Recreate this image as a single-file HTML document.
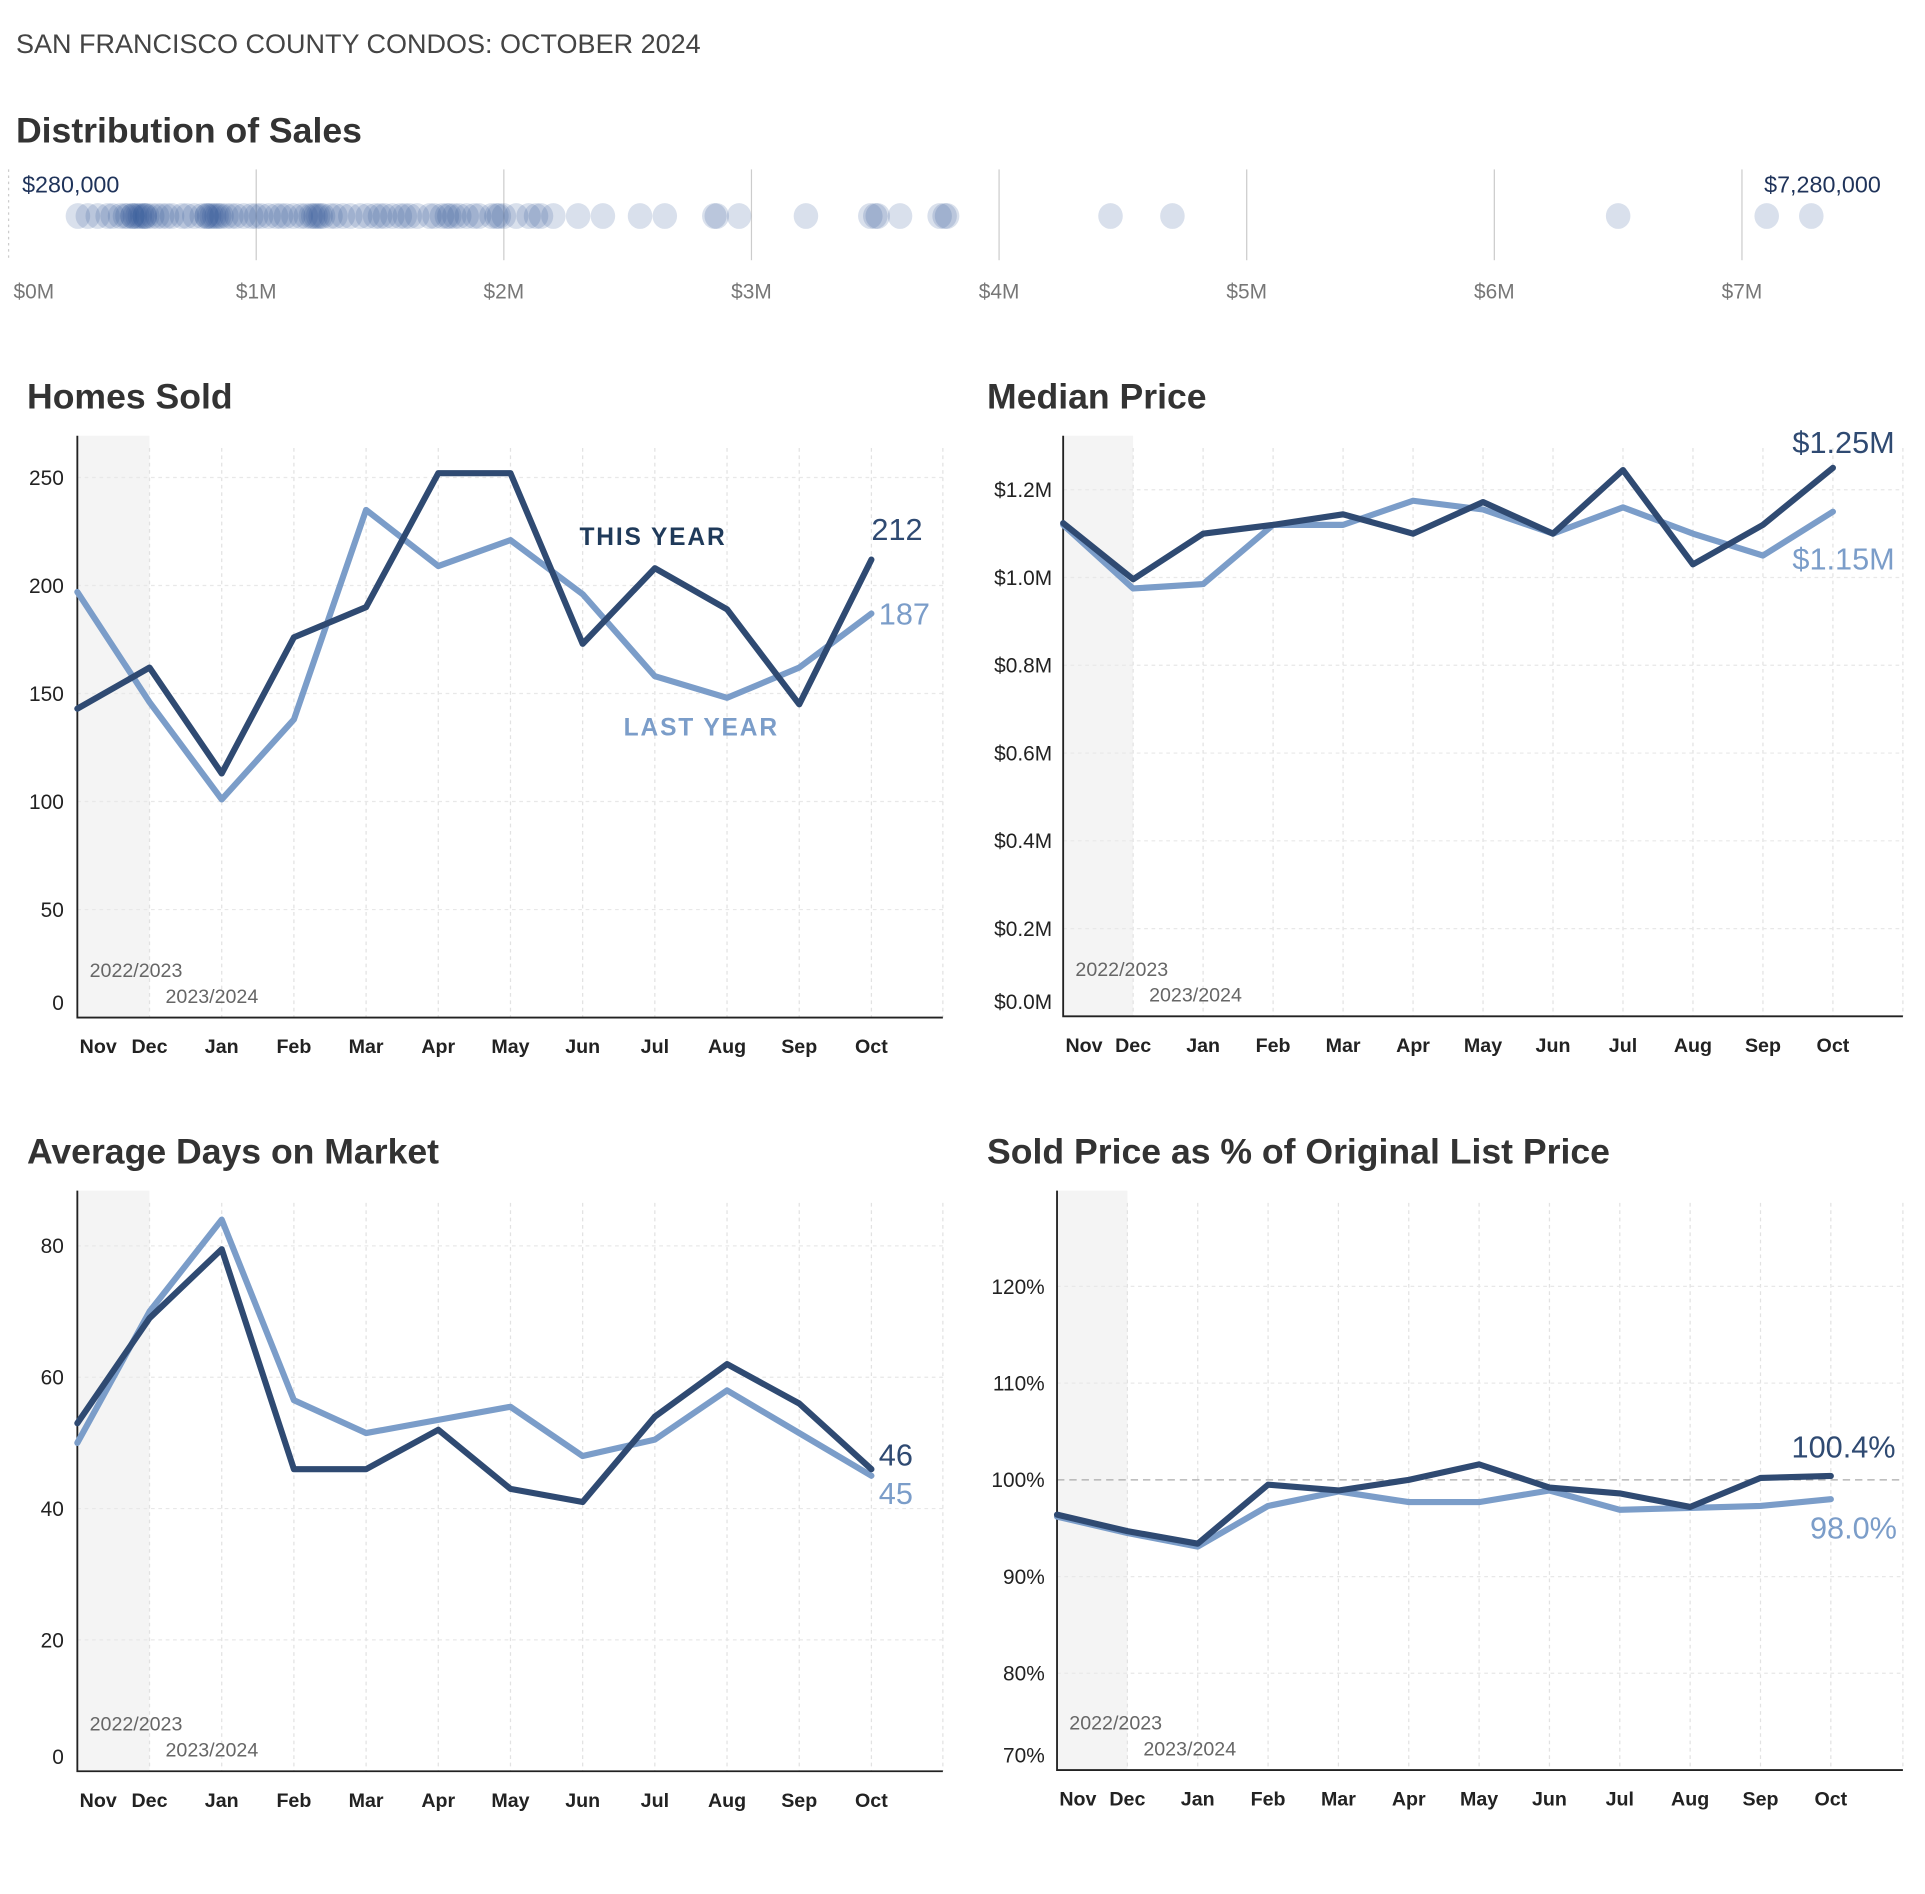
<!DOCTYPE html>
<html><head><meta charset="utf-8">
<style>
html,body{margin:0;padding:0;background:#fff;}
svg{display:block;font-family:"Liberation Sans",sans-serif;}
</style></head>
<body>
<svg id="root" width="1925" height="1894" viewBox="0 0 1568 1543" preserveAspectRatio="none" xmlns="http://www.w3.org/2000/svg"></svg>
<script>
const months = ["Nov","Dec","Jan","Feb","Mar","Apr","May","Jun","Jul","Aug","Sep","Oct"];
const soldThis = [143,162,113,176,190,252,252,173,208,189,145,212];
const soldLast = [197,146,101,138,235,209,221,196,158,148,162,187];
const soldTicks = [0,50,100,150,200,250];
const priceThis = [1.124,0.996,1.10,1.12,1.144,1.10,1.172,1.10,1.245,1.03,1.12,1.25];
const priceLast = [1.12,0.975,0.985,1.12,1.12,1.175,1.155,1.10,1.16,1.10,1.05,1.15];
const priceTicks = [0,0.2,0.4,0.6,0.8,1.0,1.2];
const domThis = [53,69,79.5,46,46,52,43,41,54,62,56,46];
const domLast = [50,70,84,56.5,51.5,53.5,55.5,48,50.5,58,51.5,45];
const domTicks = [0,20,40,60,80];
const pctThis = [96.4,94.7,93.4,99.5,98.9,100,101.6,99.2,98.6,97.2,100.2,100.4];
const pctLast = [96.2,94.5,93.1,97.3,98.8,97.7,97.7,98.9,96.9,97.1,97.3,98.0];
const pctTicks = [70,80,90,100,110,120];
const distTicks = [0,1,2,3,4,5,6,7];
const salesM = [0.28,0.32,0.36,0.4,0.42,0.45,0.47,0.48,0.5,0.5,0.51,0.52,0.53,0.54,0.55,0.55,0.56,0.58,0.6,0.62,0.64,0.66,0.7,0.72,0.75,0.78,0.8,0.8,0.81,0.82,0.83,0.84,0.85,0.86,0.88,0.9,0.92,0.95,0.98,1.0,1.02,1.05,1.08,1.1,1.12,1.15,1.18,1.2,1.22,1.23,1.24,1.25,1.26,1.27,1.3,1.32,1.35,1.38,1.42,1.45,1.48,1.5,1.52,1.55,1.58,1.6,1.62,1.65,1.7,1.72,1.75,1.77,1.78,1.8,1.82,1.85,1.88,1.9,1.95,1.97,1.98,2.0,2.05,2.1,2.13,2.15,2.2,2.3,2.4,2.55,2.65,2.85,2.86,2.95,3.22,3.48,3.5,3.51,3.6,3.76,3.78,3.79,4.45,4.7,6.5,7.1,7.28];
const DARK="#2f4a72", LIGHT="#7b9dc9";
const NS="http://www.w3.org/2000/svg";
const root=document.getElementById('root');
function mk(tag,attrs,parent,text){const e=document.createElementNS(NS,tag);for(const k in attrs)e.setAttribute(k,attrs[k]);if(text!==undefined)e.textContent=text;(parent||root).appendChild(e);return e;}

let t=mk('text',{x:13,y:43,'font-size':22,fill:'#444'},root,'SAN FRANCISCO COUNTY CONDOS: OCTOBER 2024');


const dg=mk('g',{});


t=mk('text',{x:13,y:116,'font-size':29,fill:'#333','font-weight':'bold'},dg,'Distribution of Sales');

const dx=v=>7+v*201.7;
distTicks.forEach(v=>{
  const l=mk('line',{x1:dx(v),x2:dx(v),y1:138,y2:212,stroke:'#ccc','stroke-width':1,'stroke-dasharray':v===0?'2,3':''},dg);
  
  const tx=mk('text',{x:dx(v)+(v===0?4:0),y:243,'font-size':17,fill:'#777','text-anchor':v===0?'start':'middle'},dg,'$'+v+'M');
  
});
salesM.forEach(v=>{
  const c=mk('ellipse',{cx:dx(v),cy:176,rx:10,ry:10.5,fill:'#2a5296','fill-opacity':0.18},dg);
  
});
t=mk('text',{x:18,y:157,'font-size':19,fill:'#1f335a'},dg,'$280,000');

t=mk('text',{x:1532,y:157,'font-size':19,fill:'#1f335a','text-anchor':'end'},dg,'$7,280,000');


function chart(o){
  const g=mk('g',{});
  
  
  const tt=mk('text',{x:o.titleX,y:o.top-22,'font-size':29,fill:'#333','font-weight':'bold'},g,o.title);
  
  const L=o.left,B=o.bottom,T=o.top,R=o.right;
  const x=i=>L+i*o.step;
  const y=v=>B-(v-o.ymin)*o.ppu;
  const sh=mk('rect',{x:L,y:T,width:o.step,height:B-T,fill:'#f4f4f4'},g);
  
  months.forEach((m,i)=>{
    if(i>0){const l=mk('line',{x1:x(i),x2:x(i),y1:T+10,y2:B,stroke:'#e2e2e2','stroke-dasharray':'3,3'},g);
    }
    const lt=mk('text',{x:i===0?x(i)+17:x(i),y:B+29,'font-size':16,'font-weight':'bold',fill:'#222','text-anchor':'middle'},g,m);
    
  });
  const el=mk('line',{x1:R,x2:R,y1:T+10,y2:B,stroke:'#e2e2e2','stroke-dasharray':'3,3'},g);
  
  o.ticks.forEach((v,i)=>{
    if(i>0){const l=mk('line',{x1:L,x2:R,y1:y(v),y2:y(v),stroke:o.ref===v?'#aaa':'#e8e8e8','stroke-dasharray':o.ref===v?'6,4':'3,3'},g);
    }
    const lt=mk('text',{x:o.labelX,y:(i===0?y(v)-12:y(v))+6,'font-size':17,fill:'#222','text-anchor':'end'},g,o.fmt(v));
    
  });
  const ax=mk('polyline',{points:`${L},${T} ${L},${B} ${R},${B}`,fill:'none',stroke:'#222','stroke-width':1.5},g);
  
  let y1=mk('text',{x:L+10,y:B-33,'font-size':16,fill:'#666'},g,'2022/2023');
  
  y1=mk('text',{x:L+o.step+13,y:B-12,'font-size':16,fill:'#666'},g,'2023/2024');
  
  const pl=mk('polyline',{points:o.last.map((v,i)=>x(i)+','+y(v)).join(' '),fill:'none',stroke:LIGHT,'stroke-width':5,'stroke-linejoin':'round','stroke-linecap':'round'},g);
  
  const pd=mk('polyline',{points:o.thisY.map((v,i)=>x(i)+','+y(v)).join(' '),fill:'none',stroke:DARK,'stroke-width':5,'stroke-linejoin':'round','stroke-linecap':'round'},g);
  
  const n=months.length-1;
  const a=mk('text',{x:x(n)+o.endDx[0],y:y(o.thisY[n])+o.endDy[0],'font-size':25,fill:DARK},g,o.endFmt(o.thisY[n]));
  
  const b=mk('text',{x:x(n)+o.endDx[1],y:y(o.last[n])+o.endDy[1],'font-size':25,fill:LIGHT},g,o.endFmt(o.last[n]));
  
  return g;
}

const g1=chart({name:'homes-sold-chart',title:'Homes Sold',titleX:22,top:355,left:63,right:768,bottom:829,step:58.8,ymin:0,ppu:1.76,ticks:soldTicks,labelX:52,fmt:v=>String(v),thisY:soldThis,last:soldLast,endFmt:v=>String(v),endDx:[0,6],endDy:[-16,9]});
t=mk('text',{x:472,y:444,'font-size':20,fill:'#1f3a5a','letter-spacing':'1.5','font-weight':'bold'},g1,'THIS YEAR');

t=mk('text',{x:508,y:599,'font-size':20,fill:LIGHT,'letter-spacing':'1.5','font-weight':'bold'},g1,'LAST YEAR');


chart({name:'median-price-chart',title:'Median Price',titleX:804,top:355,left:866,right:1550,bottom:828,step:57,ymin:0,ppu:357.5,ticks:priceTicks,labelX:857,fmt:v=>'$'+v.toFixed(1)+'M',thisY:priceThis,last:priceLast,endFmt:v=>'$'+v.toFixed(2)+'M',endDx:[-33,-33],endDy:[-12,47]});

chart({name:'days-on-market-chart',title:'Average Days on Market',titleX:22,top:970,left:63,right:768,bottom:1443,step:58.8,ymin:0,ppu:5.35,ticks:domTicks,labelX:52,fmt:v=>String(v),thisY:domThis,last:domLast,endFmt:v=>String(v),endDx:[6,6],endDy:[-3,23]});

chart({name:'sold-to-list-chart',title:'Sold Price as % of Original List Price',titleX:804,top:970,left:861,right:1550,bottom:1442,step:57.3,ymin:70,ppu:7.88,ref:100,ticks:pctTicks,labelX:851,fmt:v=>v+'%',thisY:pctThis,last:pctLast,endFmt:v=>v.toFixed(1)+'%',endDx:[-32,-17],endDy:[-15,32]});
</script>
</body></html>
